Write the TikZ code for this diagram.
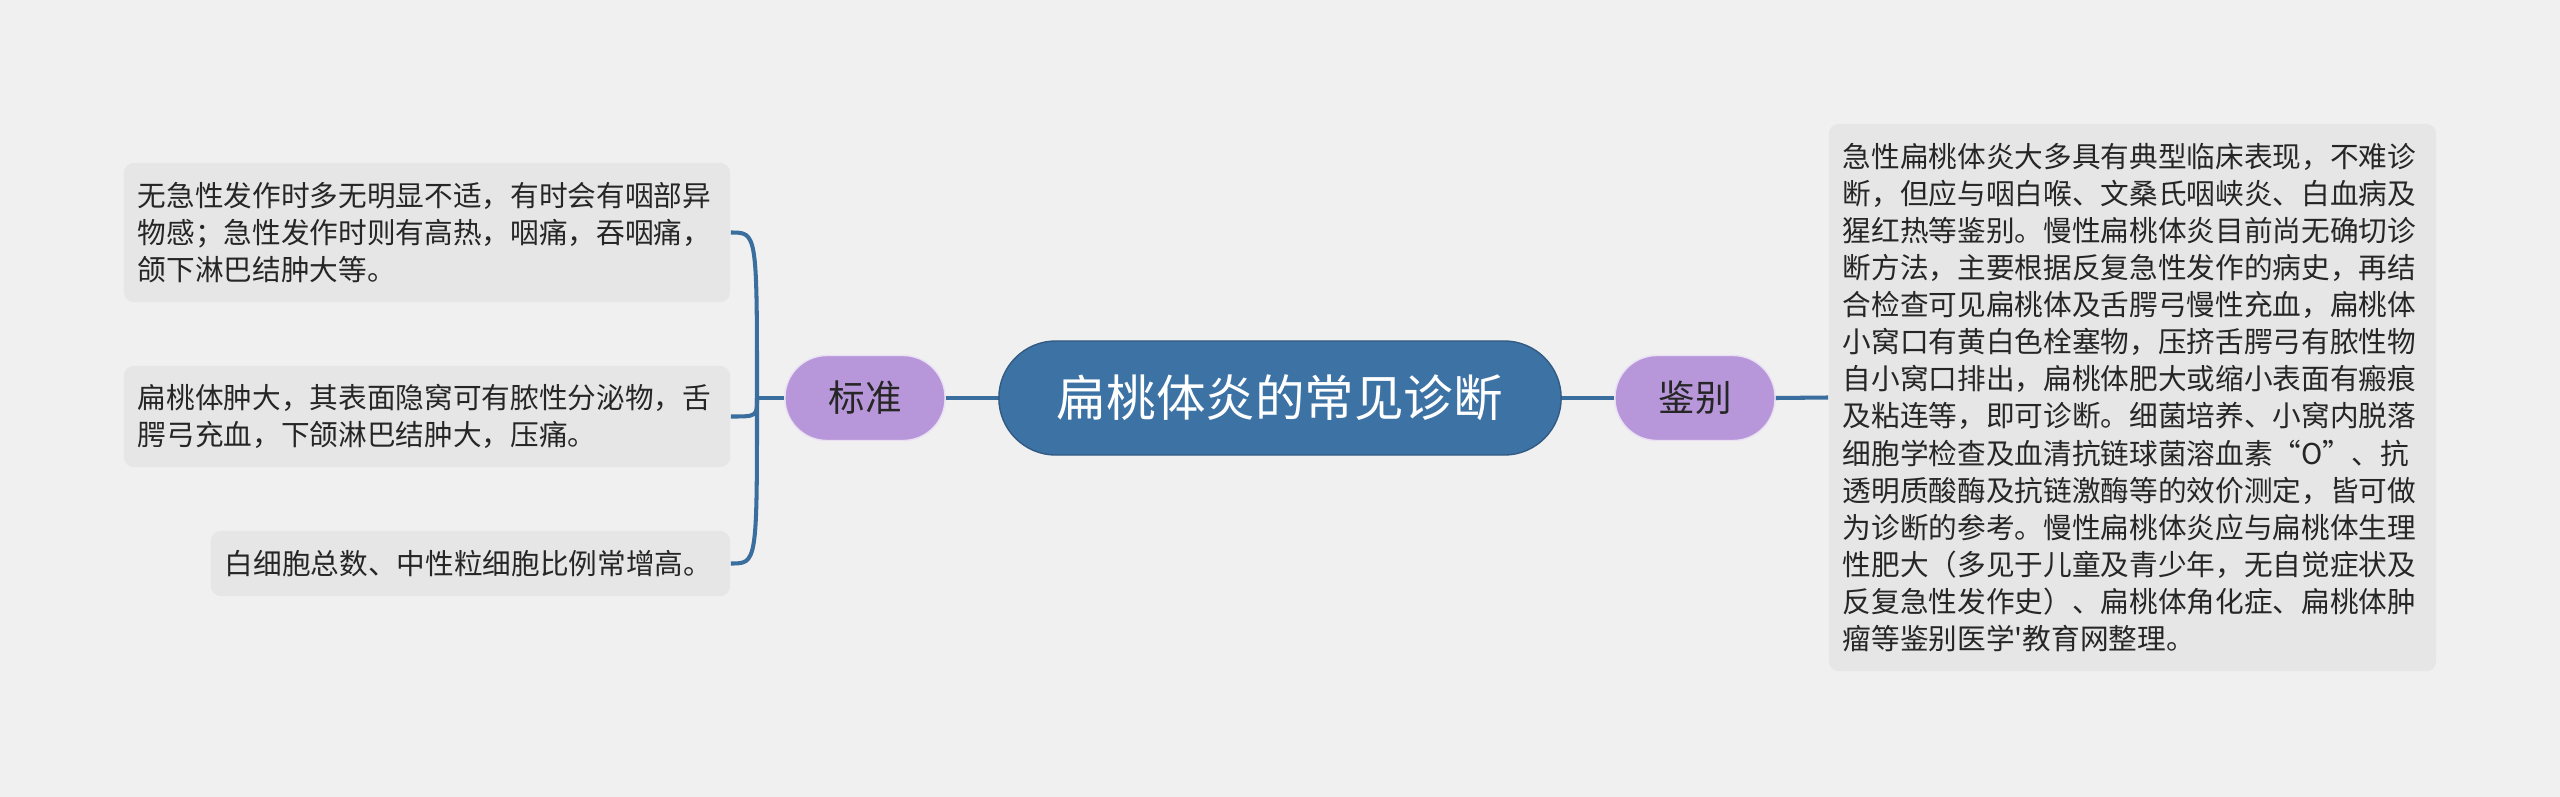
\documentclass[tikz,border=0pt]{standalone}
\usepackage{fontspec}
\setmainfont{Noto Sans CJK SC}
\usepackage{xcolor}
\usepackage{tikz}

\definecolor{bgcol}{HTML}{F0F0F0}
\definecolor{boxcol}{HTML}{E6E6E6}
\definecolor{rootcol}{HTML}{3D72A4}
\definecolor{subcol}{HTML}{B797D9}
\definecolor{linecol}{HTML}{3A6E9E}
\definecolor{txtcol}{HTML}{262626}

\begin{document}
\begin{tikzpicture}
  [x=0.01cm, y=-0.01cm,
   every node/.style={text=txtcol},
   root/.style={fill=rootcol, draw=rootcol!80!black, line width=0.4pt,
     rounded corners=0.57cm, minimum width=5.62cm, minimum height=1.14cm,
     text=white, font=\fontsize{14.1pt}{16pt}\selectfont},
   topic/.style={fill=subcol, draw=white!70!subcol, line width=0.4pt,
     rounded corners=0.42cm, minimum width=1.6cm, minimum height=0.85cm,
     font=\fontsize{10.4pt}{12pt}\selectfont},
   leaf/.style={fill=boxcol, rounded corners=0.1cm, inner xsep=0.14cm,
     inner ysep=0pt, align=left, font=\fontsize{8.15pt}{10.56pt}\selectfont},
   conn/.style={draw=linecol, line width=1.15pt}]
  % background
  \fill[bgcol] (0,0) rectangle (2560,797);
  \useasboundingbox (0,0) rectangle (2560,797);

  \node[root] (root) at (1280,398) {扁桃体炎的常见诊断};
  \node[topic] (std) at (865,398) {标准};
  \node[topic] (diff) at (1695,398) {鉴别};

  % left side
  \node[leaf, text width=5.78cm, minimum height=1.39cm] (s1) at (427,232.5)
    {无急性发作时多无明显不适，有时会有咽部异\\
     物感；急性发作时则有高热，咽痛，吞咽痛，\\
     颌下淋巴结肿大等。};
  \node[leaf, text width=5.78cm, minimum height=1.01cm] (s2) at (427,416.5)
    {扁桃体肿大，其表面隐窝可有脓性分泌物，舌\\
     腭弓充血，下颌淋巴结肿大，压痛。};
  \node[leaf, text width=4.91cm, minimum height=0.65cm] (s3) at (470.5,563.5)
    {白细胞总数、中性粒细胞比例常增高。};

  % right side
  \node[leaf, text width=5.79cm, minimum height=5.47cm] (d1) at (2132.5,397.5)
    {急性扁桃体炎大多具有典型临床表现，不难诊\\
     断，但应与咽白喉、文桑氏咽峡炎、白血病及\\
     猩红热等鉴别。慢性扁桃体炎目前尚无确切诊\\
     断方法，主要根据反复急性发作的病史，再结\\
     合检查可见扁桃体及舌腭弓慢性充血，扁桃体\\
     小窝口有黄白色栓塞物，压挤舌腭弓有脓性物\\
     自小窝口排出，扁桃体肥大或缩小表面有瘢痕\\
     及粘连等，即可诊断。细菌培养、小窝内脱落\\
     细胞学检查及血清抗链球菌溶血素“O”、抗\\
     透明质酸酶及抗链激酶等的效价测定，皆可做\\
     为诊断的参考。慢性扁桃体炎应与扁桃体生理\\
     性肥大（多见于儿童及青少年，无自觉症状及\\
     反复急性发作史）、扁桃体角化症、扁桃体肿\\
     瘤等鉴别医学\textquotesingle 教育网整理。};

  \coordinate (fork) at (757,398);

  \draw[conn] (root.west) -- (std.east);
  \draw[conn] (root.east) -- (diff.west);
  \draw[conn] (diff.east) -- (d1.west);
  \draw[conn] (std.west) -- (fork);
  \draw[conn] (fork) .. controls (757,232.5) .. (s1.east);
  \draw[conn] (fork) .. controls (757,416.5) .. (s2.east);
  \draw[conn] (fork) .. controls (757,563.5) .. (s3.east);
\end{tikzpicture}
\end{document}
